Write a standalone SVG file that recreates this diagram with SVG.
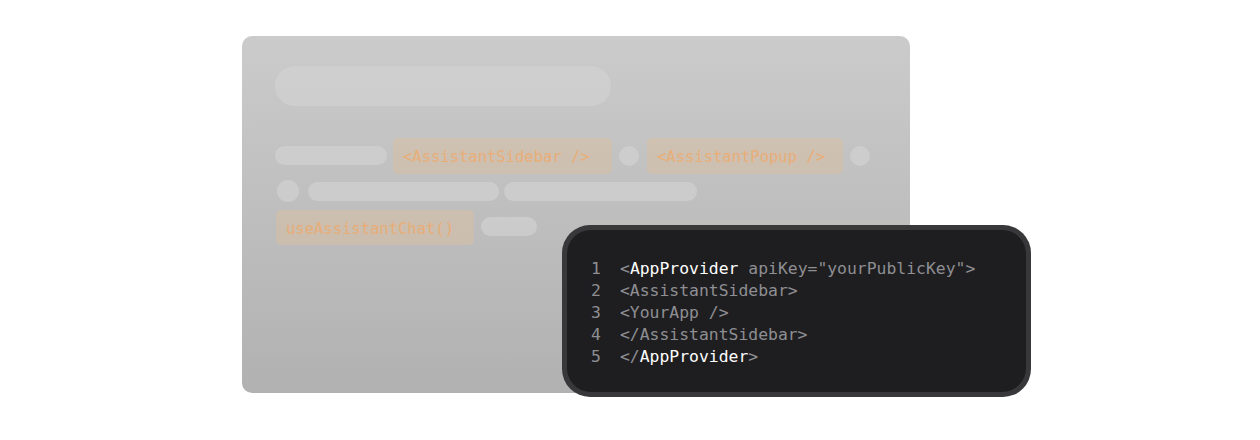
<svg xmlns="http://www.w3.org/2000/svg" width="1260" height="440" viewBox="0 0 1260 440">
<defs>
<linearGradient id="bg" x1="0" y1="0" x2="0" y2="1"><stop offset="0" stop-color="#cbcbcb"/><stop offset="1" stop-color="#b1b1b1"/></linearGradient>
<style>
.pill{fill:#d2d2d2;opacity:.7}
.tag{fill:#d9bfa3;opacity:.55}
.ot{font-family:"DejaVu Sans Mono",monospace;font-size:15.5px;fill:#f2a865;opacity:.75}
.code{font-family:"DejaVu Sans Mono",monospace;font-size:16.4px;fill:#8e8e93}
.w{fill:#ffffff}
</style>
</defs>
<rect width="1260" height="440" fill="#ffffff"/>
<g id="panel">
<rect x="242" y="36" width="668" height="357" rx="10" fill="url(#bg)"/>
<rect x="275" y="66" width="336" height="40" rx="20" class="pill"/>
<rect x="275" y="146" width="112" height="19" rx="9.5" class="pill"/>
<rect x="393" y="138" width="219" height="36" rx="5" class="tag"/>
<text x="403" y="162" class="ot">&lt;AssistantSidebar /&gt;</text>
<circle cx="629" cy="156" r="10" class="pill"/>
<rect x="647" y="138" width="196" height="36" rx="5" class="tag"/>
<text x="657" y="162" class="ot">&lt;AssistantPopup /&gt;</text>
<circle cx="860" cy="156" r="10" class="pill"/>
<circle cx="288" cy="191" r="11" class="pill"/>
<rect x="308" y="182" width="191" height="19" rx="9.5" class="pill"/>
<rect x="504" y="182" width="193" height="19" rx="9.5" class="pill"/>
<rect x="276" y="210" width="198" height="35" rx="5" class="tag"/>
<text x="286" y="234" class="ot">useAssistantChat()</text>
<rect x="481" y="217" width="56" height="19" rx="9.5" class="pill"/>
</g>
<g id="code">
<rect x="562" y="225" width="469" height="172" rx="28" fill="#38383a"/>
<rect x="567" y="230" width="459" height="162" rx="24" fill="#1e1e20"/>
<text class="code" x="591" y="274">1</text>
<text class="code" x="591" y="296">2</text>
<text class="code" x="591" y="318">3</text>
<text class="code" x="591" y="340">4</text>
<text class="code" x="591" y="362">5</text>
<text class="code" x="620" y="274">&lt;<tspan class="w">AppProvider</tspan> apiKey="yourPublicKey"&gt;</text>
<text class="code" x="620" y="296">  &lt;AssistantSidebar&gt;</text>
<text class="code" x="620" y="318">    &lt;YourApp /&gt;</text>
<text class="code" x="620" y="340">  &lt;/AssistantSidebar&gt;</text>
<text class="code" x="620" y="362">&lt;/<tspan class="w">AppProvider</tspan>&gt;</text>
</g>
</svg>
